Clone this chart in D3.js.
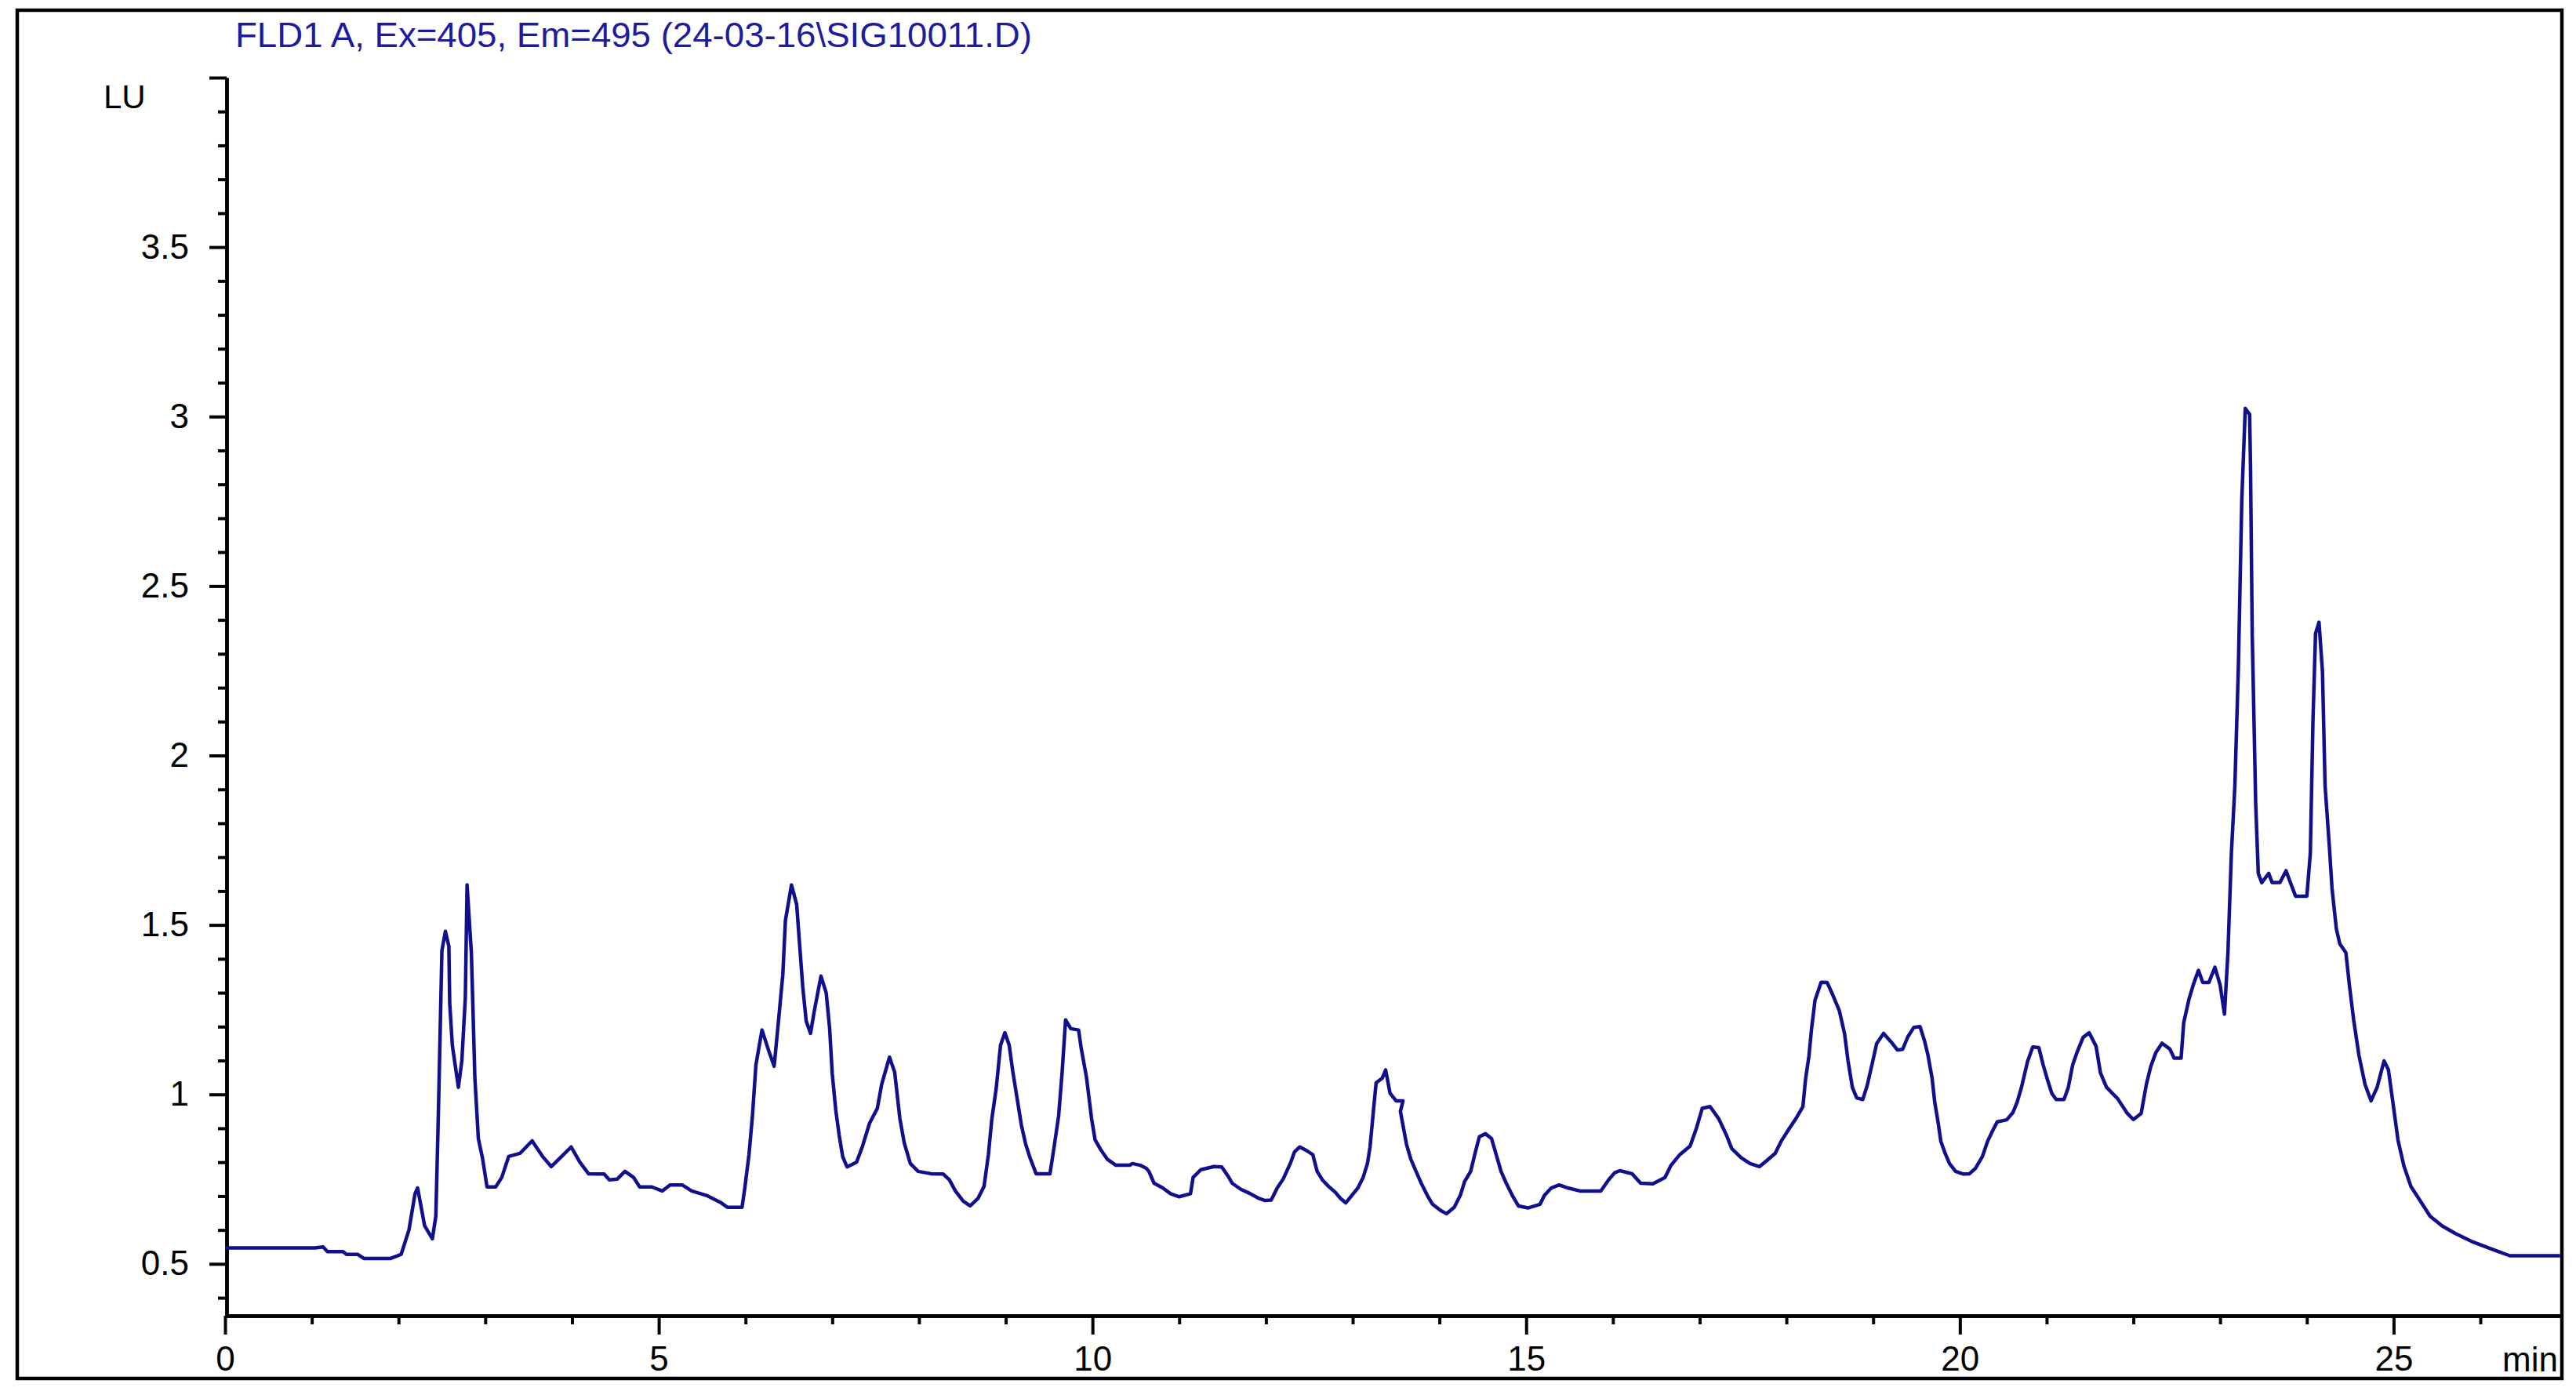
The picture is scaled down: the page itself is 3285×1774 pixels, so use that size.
<!DOCTYPE html>
<html>
<head>
<meta charset="utf-8">
<script src="https://cdn.jsdelivr.net/npm/d3@7"></script>
<style>
  html, body { margin: 0; padding: 0; background: #ffffff; }
  svg { display: block; }
  text { font-family: "Liberation Sans", Arial, sans-serif; }
</style>
</head>
<body>
<svg id="chart" width="3285" height="1774"></svg>
<script>
// ---- data (retention time in min, signal in LU) ----
const times = [
  0.00, 1.04, 1.13, 1.18, 1.36, 1.40, 1.53, 1.60, 1.91, 2.03, 2.12, 2.19, 2.22, 2.30, 2.39, 2.43, 2.46, 2.50, 2.54, 2.58,
  2.59, 2.62, 2.69, 2.73, 2.77, 2.79, 2.84, 2.88, 2.92, 2.97, 3.02, 3.12, 3.19, 3.27, 3.40, 3.54, 3.66, 3.76, 3.88, 3.99,
  4.09, 4.19, 4.37, 4.43, 4.52, 4.61, 4.71, 4.78, 4.92, 5.04, 5.13, 5.27, 5.38, 5.55, 5.72, 5.79, 5.96, 5.99, 6.04, 6.08,
  6.12, 6.19, 6.27, 6.33, 6.38, 6.43, 6.46, 6.53, 6.59, 6.62, 6.66, 6.70, 6.75, 6.79, 6.87, 6.93, 6.97, 7.00, 7.04, 7.08,
  7.12, 7.17, 7.28, 7.35, 7.43, 7.52, 7.57, 7.66, 7.72, 7.78, 7.83, 7.90, 7.99, 8.14, 8.28, 8.35, 8.42, 8.51, 8.59, 8.68,
  8.75, 8.80, 8.84, 8.89, 8.94, 8.99, 9.04, 9.08, 9.13, 9.18, 9.23, 9.28, 9.35, 9.51, 9.56, 9.61, 9.65, 9.69, 9.75, 9.84,
  9.87, 9.93, 9.96, 9.99, 10.03, 10.10, 10.17, 10.27, 10.43, 10.46, 10.55, 10.62, 10.65, 10.71, 10.81, 10.90, 11.00, 11.13, 11.16, 11.25,
  11.40, 11.49, 11.56, 11.61, 11.71, 11.82, 11.92, 11.99, 12.06, 12.13, 12.20, 12.28, 12.33, 12.39, 12.47, 12.54, 12.59, 12.65, 12.72, 12.80,
  12.86, 12.92, 12.99, 13.06, 13.12, 13.17, 13.20, 13.24, 13.27, 13.34, 13.38, 13.43, 13.50, 13.58, 13.55, 13.62, 13.67, 13.73, 13.79, 13.86,
  13.92, 14.01, 14.08, 14.17, 14.24, 14.29, 14.36, 14.41, 14.46, 14.53, 14.60, 14.65, 14.71, 14.77, 14.84, 14.91, 15.02, 15.16, 15.21, 15.29,
  15.38, 15.48, 15.62, 15.86, 15.95, 16.02, 16.08, 16.22, 16.32, 16.46, 16.60, 16.67, 16.77, 16.89, 16.96, 17.03, 17.12, 17.22, 17.31, 17.37,
  17.48, 17.58, 17.69, 17.77, 17.87, 17.94, 18.03, 18.12, 18.19, 18.22, 18.26, 18.29, 18.33, 18.40, 18.47, 18.53, 18.61, 18.67, 18.71, 18.76,
  18.81, 18.88, 18.93, 18.99, 19.04, 19.12, 19.21, 19.28, 19.34, 19.40, 19.47, 19.54, 19.59, 19.63, 19.68, 19.71, 19.75, 19.78, 19.83, 19.88,
  19.95, 20.04, 20.11, 20.18, 20.26, 20.32, 20.37, 20.43, 20.54, 20.61, 20.66, 20.71, 20.78, 20.84, 20.91, 20.96, 21.01, 21.06, 21.11, 21.20,
  21.25, 21.30, 21.35, 21.42, 21.49, 21.57, 21.62, 21.69, 21.82, 21.93, 22.00, 22.09, 22.15, 22.20, 22.26, 22.33, 22.42, 22.47, 22.55, 22.58,
  22.64, 22.69, 22.75, 22.80, 22.87, 22.94, 23.00, 23.05, 23.09, 23.13, 23.17, 23.21, 23.25, 23.29, 23.34, 23.35, 23.37, 23.41, 23.44, 23.48,
  23.56, 23.60, 23.69, 23.76, 23.81, 23.87, 24.00, 24.04, 24.07, 24.10, 24.14, 24.18, 24.21, 24.26, 24.29, 24.34, 24.38, 24.45, 24.49, 24.54,
  24.60, 24.67, 24.74, 24.81, 24.89, 24.94, 25.00, 25.05, 25.12, 25.20, 25.31, 25.42, 25.56, 25.71, 25.92, 26.14, 26.34, 26.92
];
const signal = [
  0.547, 0.547, 0.550, 0.536, 0.536, 0.528, 0.528, 0.516, 0.516, 0.528, 0.600, 0.707, 0.724, 0.613, 0.574, 0.641, 0.951, 1.424, 1.481, 1.437,
  1.269, 1.145, 1.021, 1.100, 1.286, 1.618, 1.415, 1.048, 0.870, 0.809, 0.727, 0.727, 0.755, 0.817, 0.826, 0.863, 0.817, 0.787, 0.817, 0.845,
  0.800, 0.766, 0.765, 0.748, 0.750, 0.773, 0.755, 0.727, 0.727, 0.715, 0.733, 0.733, 0.715, 0.702, 0.680, 0.667, 0.667, 0.720, 0.822, 0.937,
  1.087, 1.190, 1.127, 1.083, 1.216, 1.353, 1.513, 1.618, 1.560, 1.455, 1.317, 1.216, 1.180, 1.242, 1.349, 1.300, 1.194, 1.061, 0.955, 0.879,
  0.817, 0.786, 0.800, 0.848, 0.915, 0.959, 1.030, 1.110, 1.065, 0.928, 0.857, 0.796, 0.773, 0.766, 0.765, 0.748, 0.715, 0.685, 0.671, 0.693,
  0.729, 0.822, 0.928, 1.017, 1.145, 1.182, 1.145, 1.070, 0.990, 0.910, 0.853, 0.813, 0.766, 0.766, 0.849, 0.937, 1.065, 1.220, 1.194, 1.190,
  1.136, 1.052, 0.990, 0.928, 0.866, 0.835, 0.809, 0.791, 0.791, 0.796, 0.791, 0.782, 0.773, 0.738, 0.724, 0.707, 0.698, 0.707, 0.755, 0.778,
  0.787, 0.786, 0.760, 0.738, 0.720, 0.707, 0.693, 0.687, 0.688, 0.724, 0.751, 0.796, 0.831, 0.845, 0.834, 0.822, 0.773, 0.748, 0.729, 0.711,
  0.693, 0.680, 0.702, 0.724, 0.755, 0.796, 0.845, 0.955, 1.034, 1.048, 1.072, 1.004, 0.981, 0.981, 0.950, 0.853, 0.809, 0.773, 0.738, 0.702,
  0.676, 0.658, 0.648, 0.667, 0.702, 0.743, 0.773, 0.826, 0.875, 0.884, 0.870, 0.826, 0.773, 0.738, 0.702, 0.671, 0.665, 0.676, 0.702, 0.724,
  0.733, 0.724, 0.715, 0.715, 0.748, 0.769, 0.775, 0.766, 0.738, 0.736, 0.755, 0.791, 0.822, 0.848, 0.898, 0.959, 0.964, 0.928, 0.879, 0.840,
  0.813, 0.796, 0.787, 0.804, 0.826, 0.862, 0.898, 0.933, 0.964, 1.043, 1.114, 1.194, 1.278, 1.331, 1.330, 1.296, 1.247, 1.180, 1.100, 1.021,
  0.990, 0.985, 1.025, 1.092, 1.150, 1.180, 1.154, 1.131, 1.133, 1.170, 1.198, 1.200, 1.160, 1.118, 1.047, 0.977, 0.915, 0.862, 0.826, 0.796,
  0.773, 0.765, 0.766, 0.782, 0.817, 0.862, 0.889, 0.919, 0.925, 0.946, 0.977, 1.021, 1.097, 1.140, 1.138, 1.087, 1.043, 1.003, 0.985, 0.985,
  1.021, 1.087, 1.124, 1.168, 1.182, 1.142, 1.064, 1.021, 0.987, 0.944, 0.926, 0.944, 1.030, 1.082, 1.124, 1.151, 1.134, 1.107, 1.107, 1.211,
  1.280, 1.323, 1.366, 1.330, 1.330, 1.375, 1.323, 1.237, 1.418, 1.712, 1.910, 2.256, 2.756, 3.024, 3.006, 2.860, 2.360, 1.858, 1.652, 1.625,
  1.652, 1.625, 1.625, 1.660, 1.625, 1.585, 1.585, 1.712, 2.100, 2.360, 2.393, 2.247, 1.911, 1.729, 1.608, 1.488, 1.444, 1.418, 1.323, 1.219,
  1.116, 1.030, 0.981, 1.021, 1.099, 1.073, 0.961, 0.866, 0.788, 0.728, 0.685, 0.641, 0.612, 0.590, 0.564, 0.543, 0.524, 0.524
];
const xMajorTicks = [0, 5, 10, 15, 20, 25];
const xMinorTicks = [1, 2, 3, 4, 6, 7, 8, 9, 11, 12, 13, 14, 16, 17, 18, 19, 21, 22, 23, 24, 26];
const yMajorTicks = [0.5, 1, 1.5, 2, 2.5, 3, 3.5, 4];
const yTickLabels = ["0.5", "1", "1.5", "2", "2.5", "3", "3.5", ""];
const yMinorTicks = [0.4, 0.6, 0.7, 0.8, 0.9, 1.1, 1.2, 1.3, 1.4, 1.6, 1.7, 1.8, 1.9, 2.1, 2.2, 2.3, 2.4,
                     2.6, 2.7, 2.8, 2.9, 3.1, 3.2, 3.3, 3.4, 3.6, 3.7, 3.8, 3.9];
const titleText = "FLD1 A, Ex=405, Em=495 (24-03-16\\SIG10011.D)";
const yUnit = "LU";
const xUnit = "min";

// ---- layout ----
const svg = d3.select("#chart");
const x = d3.scaleLinear().domain([0, 26.94]).range([287, 3267]);
const y = d3.scaleLinear().domain([0.347, 4.0]).range([1678, 99]);

// outer frame
svg.append("rect")
  .attr("x", 22).attr("y", 13).attr("width", 3267 - 22).attr("height", 1758 - 13)
  .attr("fill", "none").attr("stroke", "#000").attr("stroke-width", 4.5);

// title
svg.append("text")
  .attr("x", 300).attr("y", 60)
  .attr("font-size", 44)
  .attr("fill", "#1c1c9c")
  .attr("textLength", 1016)
  .attr("lengthAdjust", "spacingAndGlyphs")
  .text(titleText);

// y unit
svg.append("text")
  .attr("x", 132).attr("y", 138)
  .attr("font-size", 42)
  .attr("fill", "#000")
  .text(yUnit);

// y axis minor
svg.append("g").attr("transform", "translate(289,0)")
  .call(d3.axisLeft(y).tickValues(yMinorTicks).tickSize(11).tickSizeOuter(0).tickFormat(""));
// y axis major
svg.append("g").attr("transform", "translate(289,0)")
  .call(d3.axisLeft(y).tickValues(yMajorTicks).tickSize(22).tickSizeOuter(0).tickPadding(26)
    .tickFormat((d, i) => yTickLabels[i]));

// x axis minor
svg.append("g").attr("transform", "translate(0,1678)")
  .call(d3.axisBottom(x).tickValues(xMinorTicks).tickSize(11).tickSizeOuter(0).tickFormat(""));
// x axis major
svg.append("g").attr("transform", "translate(0,1678)")
  .call(d3.axisBottom(x).tickValues(xMajorTicks).tickSize(24).tickSizeOuter(0).tickPadding(15)
    .tickFormat(d3.format("d")));

svg.selectAll(".domain").attr("stroke", "#000").attr("stroke-width", 4.5);
svg.selectAll(".tick line").attr("stroke", "#000").attr("stroke-width", 4);
svg.selectAll(".tick text")
  .attr("fill", "#000")
  .attr("font-size", 44)
  .attr("font-family", "'Liberation Sans', Arial, sans-serif");

// x unit
svg.append("text")
  .attr("x", 3191).attr("y", 1749)
  .attr("font-size", 44)
  .attr("fill", "#000")
  .text(xUnit);

// trace
const pts = times.map((t, i) => [t, signal[i]]);
const line = d3.line().x(d => x(d[0])).y(d => y(d[1]));
svg.append("path")
  .datum(pts)
  .attr("d", line)
  .attr("fill", "none")
  .attr("stroke", "#10108c")
  .attr("stroke-width", 4.5)
  .attr("stroke-linejoin", "round");
</script>
</body>
</html>
